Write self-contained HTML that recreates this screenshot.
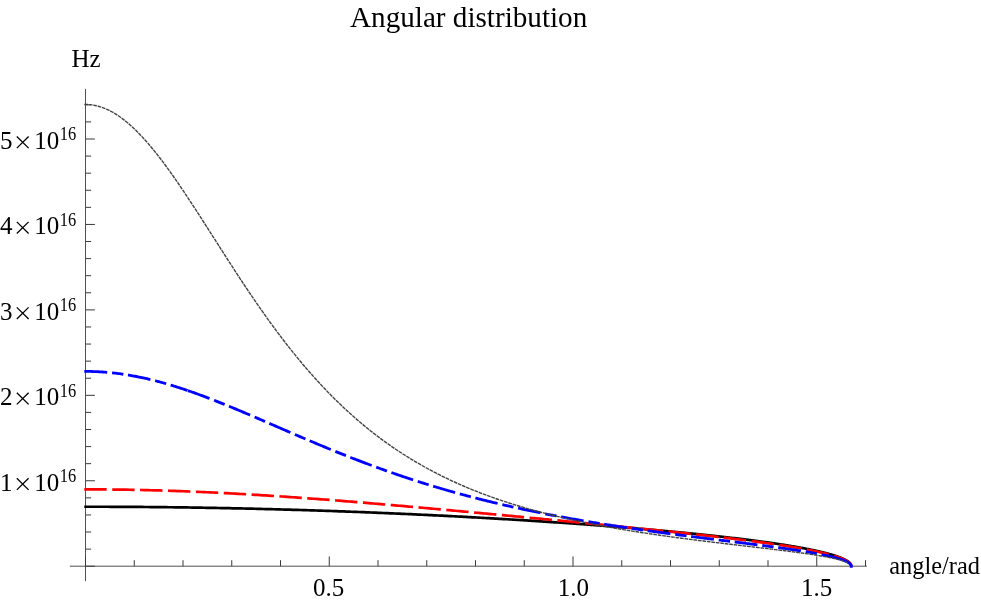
<!DOCTYPE html>
<html><head><meta charset="utf-8"><title>Angular distribution</title>
<style>
html,body{margin:0;padding:0;background:#fff;}
body{width:981px;height:602px;overflow:hidden;font-family:"Liberation Serif",serif;}
svg{display:block;}
</style></head><body>
<svg width="981" height="602" viewBox="0 0 981 602">
<rect width="981" height="602" fill="#ffffff"/>
<g stroke="#3a3a3a" stroke-width="1" fill="none" stroke-linecap="butt">
<line x1="69.8" y1="566.2" x2="866.9" y2="566.2" stroke="#505050"/>
<line x1="85.5" y1="88.9" x2="85.5" y2="581.1" stroke="#505050"/>
<line x1="85.50" y1="566.2" x2="85.50" y2="556.40"/>
<line x1="134.25" y1="566.2" x2="134.25" y2="560.20"/>
<line x1="183.00" y1="566.2" x2="183.00" y2="560.20"/>
<line x1="231.75" y1="566.2" x2="231.75" y2="560.20"/>
<line x1="280.50" y1="566.2" x2="280.50" y2="560.20"/>
<line x1="329.25" y1="566.2" x2="329.25" y2="556.40"/>
<line x1="378.00" y1="566.2" x2="378.00" y2="560.20"/>
<line x1="426.75" y1="566.2" x2="426.75" y2="560.20"/>
<line x1="475.50" y1="566.2" x2="475.50" y2="560.20"/>
<line x1="524.25" y1="566.2" x2="524.25" y2="560.20"/>
<line x1="573.00" y1="566.2" x2="573.00" y2="556.40"/>
<line x1="621.75" y1="566.2" x2="621.75" y2="560.20"/>
<line x1="670.50" y1="566.2" x2="670.50" y2="560.20"/>
<line x1="719.25" y1="566.2" x2="719.25" y2="560.20"/>
<line x1="768.00" y1="566.2" x2="768.00" y2="560.20"/>
<line x1="816.75" y1="566.2" x2="816.75" y2="556.40"/>
<line x1="865.50" y1="566.2" x2="865.50" y2="560.20"/>
<line x1="85.5" y1="566.20" x2="94.90" y2="566.20"/>
<line x1="85.5" y1="549.11" x2="91.10" y2="549.11"/>
<line x1="85.5" y1="532.02" x2="91.10" y2="532.02"/>
<line x1="85.5" y1="514.94" x2="91.10" y2="514.94"/>
<line x1="85.5" y1="497.85" x2="91.10" y2="497.85"/>
<line x1="85.5" y1="480.76" x2="94.90" y2="480.76"/>
<line x1="85.5" y1="463.67" x2="91.10" y2="463.67"/>
<line x1="85.5" y1="446.58" x2="91.10" y2="446.58"/>
<line x1="85.5" y1="429.50" x2="91.10" y2="429.50"/>
<line x1="85.5" y1="412.41" x2="91.10" y2="412.41"/>
<line x1="85.5" y1="395.32" x2="94.90" y2="395.32"/>
<line x1="85.5" y1="378.23" x2="91.10" y2="378.23"/>
<line x1="85.5" y1="361.14" x2="91.10" y2="361.14"/>
<line x1="85.5" y1="344.06" x2="91.10" y2="344.06"/>
<line x1="85.5" y1="326.97" x2="91.10" y2="326.97"/>
<line x1="85.5" y1="309.88" x2="94.90" y2="309.88"/>
<line x1="85.5" y1="292.79" x2="91.10" y2="292.79"/>
<line x1="85.5" y1="275.70" x2="91.10" y2="275.70"/>
<line x1="85.5" y1="258.62" x2="91.10" y2="258.62"/>
<line x1="85.5" y1="241.53" x2="91.10" y2="241.53"/>
<line x1="85.5" y1="224.44" x2="94.90" y2="224.44"/>
<line x1="85.5" y1="207.35" x2="91.10" y2="207.35"/>
<line x1="85.5" y1="190.26" x2="91.10" y2="190.26"/>
<line x1="85.5" y1="173.18" x2="91.10" y2="173.18"/>
<line x1="85.5" y1="156.09" x2="91.10" y2="156.09"/>
<line x1="85.5" y1="139.00" x2="94.90" y2="139.00"/>
<line x1="85.5" y1="121.91" x2="91.10" y2="121.91"/>
<line x1="85.5" y1="104.82" x2="91.10" y2="104.82"/>
</g>
<path d="M84.30 506.74 L85.50 506.74 L88.69 506.74 L91.88 506.74 L95.05 506.74 L98.22 506.75 L101.38 506.75 L104.53 506.76 L107.68 506.77 L110.81 506.78 L113.94 506.79 L117.06 506.81 L120.17 506.82 L123.28 506.84 L126.37 506.86 L129.46 506.87 L132.54 506.89 L135.62 506.92 L138.68 506.94 L141.74 506.96 L144.79 506.99 L147.83 507.01 L150.86 507.04 L153.89 507.07 L156.90 507.10 L159.91 507.13 L162.92 507.16 L165.91 507.20 L168.90 507.23 L171.88 507.27 L174.85 507.31 L177.81 507.34 L180.76 507.38 L183.71 507.42 L186.65 507.47 L189.58 507.51 L192.51 507.55 L195.42 507.60 L198.33 507.64 L201.23 507.69 L204.12 507.74 L207.01 507.79 L209.89 507.84 L212.76 507.89 L215.62 507.94 L218.47 507.99 L221.32 508.05 L224.16 508.10 L226.99 508.16 L229.81 508.22 L232.63 508.28 L235.44 508.34 L238.24 508.40 L241.03 508.46 L243.82 508.52 L246.59 508.58 L249.36 508.64 L252.13 508.71 L254.88 508.77 L257.63 508.84 L260.37 508.91 L263.10 508.98 L265.82 509.05 L268.54 509.12 L271.25 509.19 L273.95 509.26 L276.64 509.33 L279.33 509.40 L282.01 509.48 L284.68 509.55 L287.34 509.63 L290.00 509.70 L292.65 509.78 L295.29 509.86 L297.92 509.94 L300.55 510.02 L303.17 510.09 L305.78 510.18 L308.38 510.26 L310.98 510.34 L313.57 510.42 L316.15 510.50 L318.72 510.59 L321.29 510.67 L323.85 510.76 L326.40 510.85 L328.94 510.93 L331.48 511.02 L334.01 511.11 L336.53 511.20 L339.05 511.29 L341.55 511.37 L344.05 511.47 L346.55 511.56 L349.03 511.65 L351.51 511.74 L353.98 511.83 L356.44 511.93 L358.90 512.02 L361.35 512.11 L363.79 512.21 L366.22 512.31 L368.65 512.40 L371.07 512.50 L373.48 512.59 L375.88 512.69 L378.28 512.79 L380.67 512.89 L383.05 512.99 L385.43 513.09 L387.80 513.19 L390.16 513.29 L392.51 513.39 L394.86 513.49 L397.20 513.59 L399.53 513.70 L401.86 513.80 L404.17 513.90 L406.48 514.01 L408.79 514.11 L411.08 514.21 L413.37 514.32 L415.65 514.42 L417.93 514.53 L420.20 514.64 L422.46 514.74 L424.71 514.85 L426.96 514.96 L429.20 515.06 L431.43 515.17 L433.65 515.28 L435.87 515.39 L438.08 515.50 L440.28 515.61 L442.48 515.72 L444.67 515.83 L446.85 515.94 L449.03 516.05 L451.20 516.16 L453.36 516.27 L455.51 516.38 L457.66 516.50 L459.80 516.61 L461.93 516.72 L464.06 516.83 L466.18 516.95 L468.29 517.06 L470.40 517.17 L472.49 517.29 L474.59 517.40 L476.67 517.52 L478.75 517.63 L480.82 517.75 L482.88 517.86 L484.94 517.98 L486.99 518.09 L489.03 518.21 L491.07 518.33 L493.10 518.44 L495.12 518.56 L497.14 518.68 L499.14 518.79 L501.15 518.91 L503.14 519.03 L505.13 519.15 L507.11 519.26 L509.09 519.38 L511.05 519.50 L513.01 519.62 L514.97 519.74 L516.92 519.86 L518.86 519.98 L520.79 520.10 L522.72 520.22 L524.64 520.34 L526.55 520.46 L528.46 520.58 L530.36 520.70 L532.25 520.82 L534.14 520.94 L536.02 521.06 L537.89 521.18 L539.76 521.30 L541.62 521.42 L543.47 521.54 L545.32 521.67 L547.15 521.79 L548.99 521.91 L550.81 522.03 L552.63 522.15 L554.45 522.28 L556.25 522.40 L558.05 522.52 L559.85 522.64 L561.63 522.77 L563.41 522.89 L565.19 523.01 L566.95 523.13 L568.71 523.26 L570.47 523.38 L572.22 523.50 L573.96 523.63 L575.69 523.75 L577.42 523.87 L579.14 524.00 L580.85 524.12 L582.56 524.25 L584.26 524.37 L585.96 524.49 L587.65 524.62 L589.33 524.74 L591.01 524.87 L592.68 524.99 L594.34 525.11 L596.00 525.24 L597.65 525.36 L599.29 525.49 L600.93 525.61 L602.56 525.74 L604.18 525.86 L605.80 525.99 L607.41 526.11 L609.02 526.24 L610.62 526.36 L612.21 526.49 L613.79 526.61 L615.37 526.74 L616.95 526.86 L618.52 526.99 L620.08 527.11 L621.63 527.24 L623.18 527.36 L624.72 527.49 L626.26 527.61 L627.79 527.74 L629.31 527.86 L630.83 527.99 L632.34 528.11 L633.84 528.24 L635.34 528.36 L636.83 528.49 L638.32 528.62 L639.80 528.74 L641.27 528.87 L642.74 528.99 L644.20 529.12 L645.66 529.24 L647.11 529.37 L648.55 529.49 L649.99 529.62 L651.42 529.75 L652.84 529.87 L654.26 530.00 L655.67 530.12 L657.08 530.25 L658.48 530.37 L659.87 530.50 L661.26 530.62 L662.64 530.75 L664.02 530.87 L665.39 531.00 L666.75 531.13 L668.11 531.25 L669.46 531.38 L670.81 531.50 L672.15 531.63 L673.48 531.75 L674.81 531.88 L676.13 532.00 L677.44 532.13 L678.75 532.25 L680.06 532.38 L681.36 532.50 L682.65 532.63 L683.93 532.75 L685.21 532.88 L686.49 533.00 L687.76 533.13 L689.02 533.25 L690.28 533.38 L691.53 533.50 L692.77 533.63 L694.01 533.75 L695.24 533.88 L696.47 534.00 L697.69 534.13 L698.91 534.25 L700.12 534.38 L701.32 534.50 L702.52 534.63 L703.72 534.75 L704.90 534.88 L706.08 535.00 L707.26 535.12 L708.43 535.25 L709.59 535.37 L710.75 535.50 L711.90 535.62 L713.05 535.74 L714.19 535.87 L715.33 535.99 L716.46 536.12 L717.58 536.24 L718.70 536.36 L719.81 536.49 L720.92 536.61 L722.02 536.73 L723.12 536.86 L724.21 536.98 L725.30 537.10 L726.37 537.23 L727.45 537.35 L728.52 537.47 L729.58 537.60 L730.64 537.72 L731.69 537.84 L732.73 537.97 L733.78 538.09 L734.81 538.21 L735.84 538.33 L736.86 538.46 L737.88 538.58 L738.90 538.70 L739.90 538.82 L740.91 538.95 L741.90 539.07 L742.89 539.19 L743.88 539.31 L744.86 539.43 L745.84 539.56 L746.81 539.68 L747.77 539.80 L748.73 539.92 L749.68 540.04 L750.63 540.16 L751.58 540.28 L752.51 540.41 L753.45 540.53 L754.37 540.65 L755.29 540.77 L756.21 540.89 L757.12 541.01 L758.03 541.13 L758.93 541.25 L759.83 541.37 L760.72 541.49 L761.60 541.61 L762.48 541.73 L763.36 541.85 L764.22 541.97 L765.09 542.09 L765.95 542.21 L766.80 542.33 L767.65 542.45 L768.49 542.57 L769.33 542.69 L770.17 542.81 L771.00 542.93 L771.82 543.05 L772.64 543.17 L773.45 543.28 L774.26 543.40 L775.06 543.52 L775.86 543.64 L776.65 543.76 L777.44 543.88 L778.22 544.00 L779.00 544.11 L779.77 544.23 L780.54 544.35 L781.30 544.47 L782.06 544.58 L782.81 544.70 L783.56 544.82 L784.31 544.94 L785.04 545.05 L785.78 545.17 L786.51 545.29 L787.23 545.40 L787.95 545.52 L788.66 545.64 L789.37 545.75 L790.07 545.87 L790.77 545.99 L791.47 546.10 L792.16 546.22 L792.84 546.33 L793.52 546.45 L794.20 546.57 L794.87 546.68 L795.53 546.80 L796.20 546.91 L796.85 547.03 L797.50 547.14 L798.15 547.26 L798.79 547.37 L799.43 547.48 L800.06 547.60 L800.69 547.71 L801.32 547.83 L801.93 547.94 L802.55 548.06 L803.16 548.17 L803.76 548.28 L804.36 548.40 L804.96 548.51 L805.55 548.62 L806.14 548.74 L806.72 548.85 L807.30 548.96 L807.87 549.07 L808.44 549.19 L809.00 549.30 L809.56 549.41 L810.12 549.52 L810.67 549.63 L811.22 549.75 L811.76 549.86 L812.30 549.97 L812.83 550.08 L813.36 550.19 L813.88 550.30 L814.40 550.41 L814.92 550.52 L815.43 550.63 L815.93 550.74 L816.44 550.85 L816.94 550.96 L817.43 551.07 L817.92 551.18 L818.40 551.29 L818.89 551.40 L819.36 551.51 L819.84 551.62 L820.30 551.73 L820.77 551.84 L821.23 551.95 L821.68 552.06 L822.13 552.16 L822.58 552.27 L823.03 552.38 L823.46 552.49 L823.90 552.60 L824.33 552.70 L824.76 552.81 L825.18 552.92 L825.60 553.03 L826.01 553.13 L826.42 553.24 L826.83 553.35 L827.23 553.45 L827.63 553.56 L828.03 553.66 L828.42 553.77 L828.80 553.87 L829.19 553.98 L829.56 554.09 L829.94 554.19 L830.31 554.30 L830.68 554.40 L831.04 554.50 L831.40 554.61 L831.75 554.71 L832.11 554.82 L832.45 554.92 L832.80 555.02 L833.14 555.13 L833.47 555.23 L833.81 555.33 L834.14 555.44 L834.46 555.54 L834.78 555.64 L835.10 555.74 L835.41 555.85 L835.72 555.95 L836.03 556.05 L836.33 556.15 L836.63 556.25 L836.93 556.35 L837.22 556.45 L837.51 556.55 L837.79 556.65 L838.07 556.75 L838.35 556.85 L838.63 556.95 L838.90 557.05 L839.16 557.15 L839.43 557.25 L839.69 557.35 L839.94 557.45 L840.20 557.55 L840.45 557.65 L840.69 557.74 L840.94 557.84 L841.18 557.94 L841.41 558.04 L841.64 558.13 L841.87 558.23 L842.10 558.33 L842.32 558.42 L842.54 558.52 L842.76 558.62 L842.97 558.71 L843.18 558.81 L843.39 558.90 L843.59 559.00 L843.79 559.09 L843.99 559.19 L844.18 559.28 L844.37 559.37 L844.56 559.47 L844.75 559.56 L844.93 559.65 L845.11 559.75 L845.28 559.84 L845.45 559.93 L845.62 560.02 L845.79 560.12 L845.95 560.21 L846.11 560.30 L846.27 560.39 L846.43 560.48 L846.58 560.57 L846.73 560.66 L846.87 560.75 L847.02 560.84 L847.16 560.93 L847.29 561.02 L847.43 561.11 L847.56 561.19 L847.69 561.28 L847.81 561.37 L847.94 561.46 L848.06 561.54 L848.18 561.63 L848.29 561.72 L848.41 561.80 L848.52 561.89 L848.62 561.97 L848.73 562.06 L848.83 562.14 L848.93 562.23 L849.03 562.31 L849.12 562.40 L849.22 562.48 L849.31 562.56 L849.39 562.64 L849.48 562.73 L849.56 562.81 L849.64 562.89 L849.72 562.97 L849.80 563.05 L849.87 563.13 L849.94 563.21 L850.01 563.29 L850.08 563.37 L850.14 563.45 L850.21 563.53 L850.27 563.60 L850.32 563.68 L850.38 563.76 L850.43 563.83 L850.49 563.91 L850.54 563.98 L850.59 564.06 L850.63 564.13 L850.68 564.21 L850.72 564.28 L850.76 564.35 L850.80 564.42 L850.83 564.49 L850.87 564.57 L850.90 564.64 L850.93 564.71 L850.96 564.77 L850.99 564.84 L851.02 564.91 L851.04 564.98 L851.07 565.04 L851.09 565.11 L851.11 565.17 L851.13 565.24 L851.14 565.30 L851.16 565.36 L851.17 565.42 L851.19 565.48 L851.20 565.54 L851.21 565.60 L851.22 565.66 L851.23 565.71 L851.24 565.77 L851.24 565.82 L851.25 565.87 L851.25 565.92 L851.26 565.97 L851.26 566.02 L851.26 566.06 L851.26 566.10 L851.26 566.14 L851.26 566.18 L851.26 566.20" fill="none" stroke="#000000" stroke-width="2.7" stroke-linejoin="round"/>
<path d="M84.30 489.38 L85.50 489.38 L88.69 489.38 L91.88 489.39 L95.05 489.40 L98.22 489.41 L101.38 489.43 L104.53 489.45 L107.68 489.48 L110.81 489.51 L113.94 489.54 L117.06 489.58 L120.17 489.62 L123.28 489.67 L126.37 489.71 L129.46 489.77 L132.54 489.82 L135.62 489.88 L138.68 489.94 L141.74 490.01 L144.79 490.08 L147.83 490.15 L150.86 490.23 L153.89 490.31 L156.90 490.39 L159.91 490.47 L162.92 490.56 L165.91 490.65 L168.90 490.75 L171.88 490.85 L174.85 490.95 L177.81 491.05 L180.76 491.16 L183.71 491.27 L186.65 491.38 L189.58 491.50 L192.51 491.61 L195.42 491.73 L198.33 491.86 L201.23 491.98 L204.12 492.11 L207.01 492.24 L209.89 492.37 L212.76 492.51 L215.62 492.64 L218.47 492.78 L221.32 492.93 L224.16 493.07 L226.99 493.22 L229.81 493.36 L232.63 493.51 L235.44 493.67 L238.24 493.82 L241.03 493.98 L243.82 494.13 L246.59 494.29 L249.36 494.46 L252.13 494.62 L254.88 494.78 L257.63 494.95 L260.37 495.12 L263.10 495.29 L265.82 495.46 L268.54 495.63 L271.25 495.80 L273.95 495.98 L276.64 496.16 L279.33 496.33 L282.01 496.51 L284.68 496.69 L287.34 496.87 L290.00 497.06 L292.65 497.24 L295.29 497.43 L297.92 497.61 L300.55 497.80 L303.17 497.99 L305.78 498.18 L308.38 498.37 L310.98 498.56 L313.57 498.75 L316.15 498.94 L318.72 499.13 L321.29 499.33 L323.85 499.52 L326.40 499.72 L328.94 499.91 L331.48 500.11 L334.01 500.31 L336.53 500.50 L339.05 500.70 L341.55 500.90 L344.05 501.10 L346.55 501.30 L349.03 501.50 L351.51 501.70 L353.98 501.90 L356.44 502.10 L358.90 502.30 L361.35 502.50 L363.79 502.70 L366.22 502.91 L368.65 503.11 L371.07 503.31 L373.48 503.51 L375.88 503.72 L378.28 503.92 L380.67 504.12 L383.05 504.32 L385.43 504.53 L387.80 504.73 L390.16 504.93 L392.51 505.14 L394.86 505.34 L397.20 505.54 L399.53 505.75 L401.86 505.95 L404.17 506.15 L406.48 506.36 L408.79 506.56 L411.08 506.76 L413.37 506.96 L415.65 507.17 L417.93 507.37 L420.20 507.57 L422.46 507.77 L424.71 507.98 L426.96 508.18 L429.20 508.38 L431.43 508.58 L433.65 508.78 L435.87 508.98 L438.08 509.18 L440.28 509.38 L442.48 509.58 L444.67 509.78 L446.85 509.98 L449.03 510.18 L451.20 510.38 L453.36 510.57 L455.51 510.77 L457.66 510.97 L459.80 511.17 L461.93 511.36 L464.06 511.56 L466.18 511.76 L468.29 511.95 L470.40 512.15 L472.49 512.34 L474.59 512.54 L476.67 512.73 L478.75 512.92 L480.82 513.12 L482.88 513.31 L484.94 513.50 L486.99 513.69 L489.03 513.88 L491.07 514.07 L493.10 514.27 L495.12 514.45 L497.14 514.64 L499.14 514.83 L501.15 515.02 L503.14 515.21 L505.13 515.40 L507.11 515.58 L509.09 515.77 L511.05 515.96 L513.01 516.14 L514.97 516.33 L516.92 516.51 L518.86 516.70 L520.79 516.88 L522.72 517.06 L524.64 517.25 L526.55 517.43 L528.46 517.61 L530.36 517.79 L532.25 517.97 L534.14 518.15 L536.02 518.33 L537.89 518.51 L539.76 518.69 L541.62 518.87 L543.47 519.05 L545.32 519.22 L547.15 519.40 L548.99 519.58 L550.81 519.75 L552.63 519.93 L554.45 520.10 L556.25 520.28 L558.05 520.45 L559.85 520.62 L561.63 520.80 L563.41 520.97 L565.19 521.14 L566.95 521.31 L568.71 521.48 L570.47 521.65 L572.22 521.82 L573.96 521.99 L575.69 522.16 L577.42 522.33 L579.14 522.50 L580.85 522.66 L582.56 522.83 L584.26 523.00 L585.96 523.16 L587.65 523.33 L589.33 523.49 L591.01 523.66 L592.68 523.82 L594.34 523.98 L596.00 524.15 L597.65 524.31 L599.29 524.47 L600.93 524.63 L602.56 524.79 L604.18 524.95 L605.80 525.11 L607.41 525.27 L609.02 525.43 L610.62 525.59 L612.21 525.75 L613.79 525.91 L615.37 526.07 L616.95 526.22 L618.52 526.38 L620.08 526.54 L621.63 526.69 L623.18 526.85 L624.72 527.00 L626.26 527.16 L627.79 527.31 L629.31 527.46 L630.83 527.62 L632.34 527.77 L633.84 527.92 L635.34 528.07 L636.83 528.23 L638.32 528.38 L639.80 528.53 L641.27 528.68 L642.74 528.83 L644.20 528.98 L645.66 529.13 L647.11 529.27 L648.55 529.42 L649.99 529.57 L651.42 529.72 L652.84 529.86 L654.26 530.01 L655.67 530.16 L657.08 530.30 L658.48 530.45 L659.87 530.59 L661.26 530.74 L662.64 530.88 L664.02 531.03 L665.39 531.17 L666.75 531.32 L668.11 531.46 L669.46 531.60 L670.81 531.74 L672.15 531.89 L673.48 532.03 L674.81 532.17 L676.13 532.31 L677.44 532.45 L678.75 532.59 L680.06 532.73 L681.36 532.87 L682.65 533.01 L683.93 533.15 L685.21 533.29 L686.49 533.43 L687.76 533.56 L689.02 533.70 L690.28 533.84 L691.53 533.98 L692.77 534.11 L694.01 534.25 L695.24 534.38 L696.47 534.52 L697.69 534.66 L698.91 534.79 L700.12 534.93 L701.32 535.06 L702.52 535.19 L703.72 535.33 L704.90 535.46 L706.08 535.60 L707.26 535.73 L708.43 535.86 L709.59 535.99 L710.75 536.13 L711.90 536.26 L713.05 536.39 L714.19 536.52 L715.33 536.65 L716.46 536.78 L717.58 536.92 L718.70 537.05 L719.81 537.18 L720.92 537.31 L722.02 537.44 L723.12 537.56 L724.21 537.69 L725.30 537.82 L726.37 537.95 L727.45 538.08 L728.52 538.21 L729.58 538.34 L730.64 538.46 L731.69 538.59 L732.73 538.72 L733.78 538.84 L734.81 538.97 L735.84 539.10 L736.86 539.22 L737.88 539.35 L738.90 539.48 L739.90 539.60 L740.91 539.73 L741.90 539.85 L742.89 539.98 L743.88 540.10 L744.86 540.22 L745.84 540.35 L746.81 540.47 L747.77 540.60 L748.73 540.72 L749.68 540.84 L750.63 540.97 L751.58 541.09 L752.51 541.21 L753.45 541.33 L754.37 541.46 L755.29 541.58 L756.21 541.70 L757.12 541.82 L758.03 541.94 L758.93 542.06 L759.83 542.18 L760.72 542.31 L761.60 542.43 L762.48 542.55 L763.36 542.67 L764.22 542.79 L765.09 542.91 L765.95 543.03 L766.80 543.14 L767.65 543.26 L768.49 543.38 L769.33 543.50 L770.17 543.62 L771.00 543.74 L771.82 543.86 L772.64 543.97 L773.45 544.09 L774.26 544.21 L775.06 544.33 L775.86 544.44 L776.65 544.56 L777.44 544.68 L778.22 544.79 L779.00 544.91 L779.77 545.03 L780.54 545.14 L781.30 545.26 L782.06 545.38 L782.81 545.49 L783.56 545.61 L784.31 545.72 L785.04 545.84 L785.78 545.95 L786.51 546.07 L787.23 546.18 L787.95 546.30 L788.66 546.41 L789.37 546.52 L790.07 546.64 L790.77 546.75 L791.47 546.86 L792.16 546.98 L792.84 547.09 L793.52 547.20 L794.20 547.32 L794.87 547.43 L795.53 547.54 L796.20 547.65 L796.85 547.77 L797.50 547.88 L798.15 547.99 L798.79 548.10 L799.43 548.21 L800.06 548.32 L800.69 548.43 L801.32 548.55 L801.93 548.66 L802.55 548.77 L803.16 548.88 L803.76 548.99 L804.36 549.10 L804.96 549.21 L805.55 549.32 L806.14 549.43 L806.72 549.54 L807.30 549.64 L807.87 549.75 L808.44 549.86 L809.00 549.97 L809.56 550.08 L810.12 550.19 L810.67 550.30 L811.22 550.40 L811.76 550.51 L812.30 550.62 L812.83 550.73 L813.36 550.83 L813.88 550.94 L814.40 551.05 L814.92 551.16 L815.43 551.26 L815.93 551.37 L816.44 551.48 L816.94 551.58 L817.43 551.69 L817.92 551.79 L818.40 551.90 L818.89 552.00 L819.36 552.11 L819.84 552.22 L820.30 552.32 L820.77 552.42 L821.23 552.53 L821.68 552.63 L822.13 552.74 L822.58 552.84 L823.03 552.95 L823.46 553.05 L823.90 553.15 L824.33 553.26 L824.76 553.36 L825.18 553.46 L825.60 553.57 L826.01 553.67 L826.42 553.77 L826.83 553.87 L827.23 553.98 L827.63 554.08 L828.03 554.18 L828.42 554.28 L828.80 554.38 L829.19 554.48 L829.56 554.59 L829.94 554.69 L830.31 554.79 L830.68 554.89 L831.04 554.99 L831.40 555.09 L831.75 555.19 L832.11 555.29 L832.45 555.39 L832.80 555.49 L833.14 555.59 L833.47 555.69 L833.81 555.78 L834.14 555.88 L834.46 555.98 L834.78 556.08 L835.10 556.18 L835.41 556.28 L835.72 556.37 L836.03 556.47 L836.33 556.57 L836.63 556.66 L836.93 556.76 L837.22 556.86 L837.51 556.95 L837.79 557.05 L838.07 557.15 L838.35 557.24 L838.63 557.34 L838.90 557.43 L839.16 557.53 L839.43 557.62 L839.69 557.72 L839.94 557.81 L840.20 557.91 L840.45 558.00 L840.69 558.10 L840.94 558.19 L841.18 558.28 L841.41 558.38 L841.64 558.47 L841.87 558.56 L842.10 558.66 L842.32 558.75 L842.54 558.84 L842.76 558.93 L842.97 559.02 L843.18 559.11 L843.39 559.21 L843.59 559.30 L843.79 559.39 L843.99 559.48 L844.18 559.57 L844.37 559.66 L844.56 559.75 L844.75 559.84 L844.93 559.93 L845.11 560.02 L845.28 560.10 L845.45 560.19 L845.62 560.28 L845.79 560.37 L845.95 560.46 L846.11 560.54 L846.27 560.63 L846.43 560.72 L846.58 560.80 L846.73 560.89 L846.87 560.98 L847.02 561.06 L847.16 561.15 L847.29 561.23 L847.43 561.32 L847.56 561.40 L847.69 561.49 L847.81 561.57 L847.94 561.66 L848.06 561.74 L848.18 561.82 L848.29 561.90 L848.41 561.99 L848.52 562.07 L848.62 562.15 L848.73 562.23 L848.83 562.31 L848.93 562.39 L849.03 562.47 L849.12 562.55 L849.22 562.63 L849.31 562.71 L849.39 562.79 L849.48 562.87 L849.56 562.95 L849.64 563.03 L849.72 563.11 L849.80 563.18 L849.87 563.26 L849.94 563.34 L850.01 563.41 L850.08 563.49 L850.14 563.56 L850.21 563.64 L850.27 563.71 L850.32 563.79 L850.38 563.86 L850.43 563.93 L850.49 564.00 L850.54 564.08 L850.59 564.15 L850.63 564.22 L850.68 564.29 L850.72 564.36 L850.76 564.43 L850.80 564.50 L850.83 564.57 L850.87 564.63 L850.90 564.70 L850.93 564.77 L850.96 564.83 L850.99 564.90 L851.02 564.96 L851.04 565.03 L851.07 565.09 L851.09 565.15 L851.11 565.22 L851.13 565.28 L851.14 565.34 L851.16 565.40 L851.17 565.46 L851.19 565.51 L851.20 565.57 L851.21 565.63 L851.22 565.68 L851.23 565.73 L851.24 565.79 L851.24 565.84 L851.25 565.89 L851.25 565.94 L851.26 565.98 L851.26 566.03 L851.26 566.07 L851.26 566.11 L851.26 566.14 L851.26 566.18 L851.26 566.20" fill="none" stroke="#ff0000" stroke-width="2.7" stroke-linejoin="round" stroke-dasharray="22.4 5.5"/>
<path d="M84.30 371.41 L85.50 371.41 L86.81 371.42 L88.12 371.43 L89.43 371.44 L90.74 371.47 L92.04 371.50 L93.35 371.54 L94.66 371.58 L95.97 371.63 L97.28 371.69 L98.59 371.75 L99.90 371.83 L101.21 371.90 L102.52 371.99 L103.83 372.08 L105.13 372.18 L106.44 372.29 L107.75 372.40 L109.06 372.52 L110.37 372.64 L111.68 372.77 L112.99 372.91 L114.30 373.06 L115.61 373.21 L116.92 373.37 L118.22 373.53 L119.53 373.70 L120.84 373.88 L122.15 374.07 L123.46 374.26 L124.77 374.45 L126.08 374.66 L127.39 374.87 L128.70 375.08 L130.01 375.30 L131.31 375.53 L132.62 375.77 L133.93 376.01 L135.24 376.25 L136.55 376.50 L137.86 376.76 L139.17 377.03 L140.48 377.30 L141.79 377.57 L143.09 377.85 L144.40 378.14 L145.71 378.43 L147.02 378.73 L148.33 379.04 L149.64 379.35 L150.95 379.66 L152.26 379.98 L153.57 380.31 L154.88 380.64 L156.18 380.98 L157.49 381.32 L158.80 381.67 L160.11 382.02 L161.42 382.38 L162.73 382.74 L164.04 383.11 L165.35 383.48 L166.66 383.86 L167.97 384.24 L169.27 384.63 L170.58 385.02 L171.89 385.41 L173.20 385.81 L174.51 386.22 L175.82 386.63 L177.13 387.04 L178.44 387.46 L179.75 387.88 L181.06 388.31 L182.36 388.74 L183.67 389.17 L184.98 389.61 L186.29 390.05 L187.60 390.50" fill="none" stroke="#0000ff" stroke-width="2.8" stroke-linejoin="round" stroke-dasharray="22.9 4.9 11.4 4.67"/>
<path d="M188.00 390.64 L189.28 391.08 L190.56 391.52 L191.84 391.97 L193.12 392.42 L194.40 392.88 L195.68 393.34 L196.96 393.80 L198.24 394.27 L199.52 394.73 L200.80 395.20 L202.08 395.68 L203.36 396.16 L204.64 396.64 L205.92 397.12 L207.20 397.60 L208.48 398.09 L209.76 398.58 L211.04 399.08 L212.32 399.57 L213.60 400.07 L214.88 400.57 L216.15 401.08 L217.43 401.58 L218.71 402.09 L219.99 402.60 L221.27 403.11 L222.55 403.63 L223.83 404.15 L225.11 404.66 L226.39 405.19 L227.67 405.71 L228.95 406.23 L230.23 406.76 L231.51 407.29 L232.79 407.81 L234.07 408.35 L235.35 408.88 L236.63 409.41 L237.91 409.95 L239.19 410.48 L240.47 411.02 L241.75 411.56 L243.03 412.10 L244.31 412.64 L245.59 413.19 L246.87 413.73 L248.15 414.27 L249.43 414.82 L250.71 415.37 L251.99 415.91 L253.27 416.46 L254.55 417.01 L255.83 417.56 L257.11 418.11 L258.39 418.66 L259.67 419.21 L260.95 419.77 L262.23 420.32 L263.51 420.87 L264.79 421.42 L266.07 421.98 L267.35 422.53 L268.62 423.09 L269.90 423.64 L271.18 424.19 L272.46 424.75 L273.74 425.30 L275.02 425.86 L276.30 426.41 L277.58 426.97 L278.86 427.52 L280.14 428.08 L281.42 428.63 L282.70 429.19 L283.98 429.74 L285.26 430.29 L286.54 430.85 L287.82 431.40 L289.10 431.95 L290.38 432.50 L291.66 433.06 L292.94 433.61 L294.22 434.16 L295.50 434.71 L296.78 435.26 L298.06 435.81 L299.34 436.35 L300.62 436.90 L301.90 437.45 L303.18 437.99 L304.46 438.54 L305.74 439.08 L307.02 439.63 L308.30 440.17 L309.58 440.71 L310.86 441.25 L312.14 441.79 L313.42 442.33 L314.70 442.87 L315.98 443.41 L317.26 443.94 L318.54 444.48 L319.82 445.01 L321.10 445.54 L322.38 446.08 L323.65 446.61 L324.93 447.14 L326.21 447.66 L327.49 448.19 L328.77 448.72 L330.05 449.24 L331.33 449.76 L332.61 450.28 L333.89 450.80 L335.17 451.32 L336.45 451.84 L337.73 452.36 L339.01 452.87 L340.29 453.39 L341.57 453.90 L342.85 454.41 L344.13 454.92 L345.41 455.42 L346.69 455.93 L347.97 456.43 L349.25 456.94 L350.53 457.44 L351.81 457.94 L353.09 458.44 L354.37 458.93 L355.65 459.43 L356.93 459.92 L358.21 460.41 L359.49 460.91 L360.77 461.39 L362.05 461.88 L363.33 462.37 L364.61 462.85 L365.89 463.33 L367.17 463.81 L368.45 464.29 L369.73 464.77 L371.01 465.24 L372.29 465.72 L373.57 466.19 L374.85 466.66 L376.12 467.13 L377.40 467.59 L378.68 468.06 L379.96 468.52 L381.24 468.98 L382.52 469.44 L383.80 469.90 L385.08 470.36 L386.36 470.81 L387.64 471.26 L388.92 471.71 L390.20 472.16 L391.48 472.61 L392.76 473.05 L394.04 473.50 L395.32 473.94 L396.60 474.38 L397.88 474.82 L399.16 475.25 L400.44 475.69 L401.72 476.12 L403.00 476.55 L404.28 476.98 L405.56 477.41 L406.84 477.83 L408.12 478.26 L409.40 478.68 L410.68 479.10 L411.96 479.52 L413.24 479.93 L414.52 480.35 L415.80 480.76 L417.08 481.17 L418.36 481.58 L419.64 481.99 L420.92 482.39 L422.20 482.79 L423.48 483.20 L424.76 483.60 L426.04 483.99 L427.32 484.39 L428.60 484.78 L429.88 485.18 L431.15 485.57 L432.43 485.96 L433.71 486.34 L434.99 486.73 L436.27 487.11 L437.55 487.49 L438.83 487.87 L440.11 488.25 L441.39 488.63 L442.67 489.00 L443.95 489.38 L445.23 489.75 L446.51 490.12 L447.79 490.49 L449.07 490.85 L450.35 491.22 L451.63 491.58 L452.91 491.94 L454.19 492.30 L455.47 492.66 L456.75 493.01 L458.03 493.37 L459.31 493.72 L460.59 494.07 L461.87 494.42 L463.15 494.76 L464.43 495.11 L465.71 495.45 L466.99 495.80 L468.27 496.14 L469.55 496.47 L470.83 496.81 L472.11 497.15 L473.39 497.48 L474.67 497.81 L475.95 498.14 L477.23 498.47 L478.51 498.80 L479.79 499.13 L481.07 499.45 L482.35 499.77 L483.63 500.09 L484.90 500.41 L486.18 500.73 L487.46 501.05 L488.74 501.36 L490.02 501.67 L491.30 501.98 L492.58 502.29 L493.86 502.60 L495.14 502.91 L496.42 503.21 L497.70 503.52 L498.98 503.82 L500.26 504.12 L501.54 504.42 L502.82 504.72 L504.10 505.02 L505.38 505.31 L506.66 505.60 L507.94 505.90 L509.22 506.19 L510.50 506.47 L511.78 506.76 L513.06 507.05 L514.34 507.33 L515.62 507.62 L516.90 507.90 L518.18 508.18 L519.46 508.46 L520.74 508.74 L522.02 509.01 L523.30 509.29 L524.58 509.56 L525.86 509.83 L527.14 510.10 L528.42 510.37 L529.70 510.64 L530.98 510.91 L532.26 511.17 L533.54 511.44 L534.82 511.70 L536.10 511.96 L537.38 512.22 L538.65 512.48 L539.93 512.74 L541.21 513.00 L542.49 513.25 L543.77 513.51 L545.05 513.76 L546.33 514.01 L547.61 514.26 L548.89 514.51 L550.17 514.76 L551.45 515.01 L552.73 515.25 L554.01 515.50 L555.29 515.74 L556.57 515.98 L557.85 516.22 L559.13 516.46 L560.41 516.70 L561.69 516.94 L562.97 517.17 L564.25 517.41 L565.53 517.64 L566.81 517.88 L568.09 518.11 L569.37 518.34 L570.65 518.57 L571.93 518.80 L573.21 519.03 L574.49 519.25 L575.77 519.48 L577.05 519.70 L578.33 519.93 L579.61 520.15 L580.89 520.37 L582.17 520.59 L583.45 520.81 L584.73 521.03 L586.01 521.25 L587.29 521.46 L588.57 521.68 L589.85 521.89 L591.12 522.11 L592.40 522.32 L593.68 522.53 L594.96 522.74 L596.24 522.95 L597.52 523.16 L598.80 523.37 L600.08 523.57 L601.36 523.78 L602.64 523.99 L603.92 524.19 L605.20 524.39 L606.48 524.60 L607.76 524.80 L609.04 525.00 L610.32 525.20 L611.60 525.40 L612.88 525.60 L614.16 525.79 L615.44 525.99 L616.72 526.19 L618.00 526.38 L619.28 526.58 L620.56 526.77 L621.84 526.96 L623.12 527.16 L624.40 527.35 L625.68 527.54 L626.96 527.73 L628.24 527.92 L629.52 528.11 L630.80 528.29 L632.08 528.48 L633.36 528.67 L634.64 528.85 L635.92 529.04 L637.20 529.22 L638.48 529.41 L639.76 529.59 L641.04 529.77 L642.32 529.95 L643.60 530.14 L644.88 530.32 L646.15 530.50 L647.43 530.68 L648.71 530.85 L649.99 531.03 L651.27 531.21 L652.55 531.39 L653.83 531.56 L655.11 531.74 L656.39 531.91 L657.67 532.09 L658.95 532.26 L660.23 532.44 L661.51 532.61 L662.79 532.78 L664.07 532.95 L665.35 533.13 L666.63 533.30 L667.91 533.47 L669.19 533.64 L670.47 533.81 L671.75 533.98 L673.03 534.15 L674.31 534.32 L675.59 534.48 L676.87 534.65 L678.15 534.82 L679.43 534.99 L680.71 535.15 L681.99 535.32 L683.27 535.48 L684.55 535.65 L685.83 535.81 L687.11 535.98 L688.39 536.14 L689.67 536.31 L690.95 536.47 L692.23 536.63 L693.51 536.80 L694.79 536.96 L696.07 537.12 L697.35 537.29 L698.62 537.45 L699.90 537.61 L701.18 537.77 L702.46 537.93 L703.74 538.09 L705.02 538.25 L706.30 538.42 L707.58 538.58 L708.86 538.74 L710.14 538.90 L711.42 539.06 L712.70 539.22 L713.98 539.38 L715.26 539.54 L716.54 539.70 L717.82 539.86 L719.10 540.02 L720.38 540.18 L721.66 540.33 L722.94 540.49 L724.22 540.65 L725.50 540.81 L726.78 540.97 L728.06 541.13 L729.34 541.29 L730.62 541.45 L731.90 541.61 L733.18 541.77 L734.46 541.93 L735.74 542.09 L737.02 542.25 L738.30 542.41 L739.58 542.57 L740.86 542.73 L742.14 542.89 L743.42 543.05 L744.70 543.21 L745.98 543.38 L747.26 543.54 L748.54 543.70 L749.82 543.86 L751.10 544.02 L752.38 544.19 L753.65 544.35 L754.93 544.51 L756.21 544.68 L757.49 544.84 L758.77 545.01 L760.05 545.17 L761.33 545.34 L762.61 545.51 L763.89 545.67 L765.17 545.84 L766.45 546.01 L767.73 546.18 L769.01 546.35 L770.29 546.52 L771.57 546.69 L772.85 546.86 L774.13 547.03 L775.41 547.21 L776.69 547.38 L777.97 547.56 L779.25 547.73 L780.53 547.91 L781.81 548.09 L783.09 548.27 L784.37 548.45 L785.65 548.63 L786.93 548.81 L788.21 549.00 L789.49 549.18 L790.77 549.37 L792.05 549.56 L793.33 549.75 L794.61 549.94 L795.89 550.13 L797.17 550.33 L798.45 550.53 L799.73 550.73 L801.01 550.93 L802.29 551.13 L803.57 551.33 L804.85 551.54 L806.12 551.75 L807.40 551.96 L808.68 552.18 L809.96 552.40 L811.24 552.62 L812.52 552.84 L813.80 553.07 L815.08 553.30 L816.36 553.53 L817.64 553.77 L818.92 554.01 L820.20 554.26 L821.48 554.51 L822.76 554.77 L824.04 555.03 L825.32 555.30 L826.60 555.58 L827.88 555.86 L829.16 556.15 L830.44 556.45 L831.72 556.75 L833.00 557.07" fill="none" stroke="#0000ff" stroke-width="2.8" stroke-linejoin="round" stroke-dasharray="22.9 4.9 11.4 4.67"/>
<path d="M833.00 557.07 L834.53 557.46 L835.99 557.85 L837.36 558.24 L838.66 558.62 L839.88 559.00 L841.03 559.37 L842.11 559.74 L843.11 560.11 L844.05 560.47 L844.92 560.82 L845.72 561.17 L846.46 561.52 L847.13 561.86 L847.75 562.20 L848.31 562.53 L848.81 562.85 L849.25 563.17 L849.64 563.48 L849.99 563.79 L850.28 564.09 L850.53 564.38 L850.74 564.66 L850.91 564.93 L851.04 565.19 L851.13 565.43 L851.20 565.66 L851.24 565.88 L851.26 566.06 L851.26 566.20 L851.26 567.70" fill="none" stroke="#0000ff" stroke-width="2.8" stroke-linejoin="round" stroke-dasharray="22.9 4.9 11.4 4.67"/>
<path d="M84.30 104.48 L85.50 104.48 L88.69 104.59 L91.88 104.92 L95.05 105.46 L98.22 106.21 L101.38 107.16 L104.53 108.33 L107.68 109.69 L110.81 111.25 L113.94 113.00 L117.06 114.93 L120.17 117.04 L123.28 119.33 L126.37 121.79 L129.46 124.40 L132.54 127.18 L135.62 130.10 L138.68 133.16 L141.74 136.36 L144.79 139.69 L147.83 143.14 L150.86 146.70 L153.89 150.37 L156.90 154.14 L159.91 158.00 L162.92 161.95 L165.91 165.98 L168.90 170.08 L171.88 174.25 L174.85 178.48 L177.81 182.76 L180.76 187.09 L183.71 191.46 L186.65 195.87 L189.58 200.30 L192.51 204.76 L195.42 209.24 L198.33 213.74 L201.23 218.24 L204.12 222.75 L207.01 227.26 L209.89 231.76 L212.76 236.26 L215.62 240.74 L218.47 245.21 L221.32 249.66 L224.16 254.09 L226.99 258.50 L229.81 262.87 L232.63 267.22 L235.44 271.54 L238.24 275.81 L241.03 280.06 L243.82 284.26 L246.59 288.42 L249.36 292.54 L252.13 296.62 L254.88 300.65 L257.63 304.64 L260.37 308.57 L263.10 312.46 L265.82 316.30 L268.54 320.10 L271.25 323.84 L273.95 327.52 L276.64 331.16 L279.33 334.75 L282.01 338.28 L284.68 341.77 L287.34 345.20 L290.00 348.57 L292.65 351.90 L295.29 355.17 L297.92 358.40 L300.55 361.57 L303.17 364.69 L305.78 367.75 L308.38 370.77 L310.98 373.74 L313.57 376.66 L316.15 379.52 L318.72 382.34 L321.29 385.11 L323.85 387.83 L326.40 390.51 L328.94 393.14 L331.48 395.72 L334.01 398.25 L336.53 400.74 L339.05 403.19 L341.55 405.59 L344.05 407.95 L346.55 410.27 L349.03 412.54 L351.51 414.78 L353.98 416.97 L356.44 419.12 L358.90 421.24 L361.35 423.31 L363.79 425.35 L366.22 427.35 L368.65 429.31 L371.07 431.24 L373.48 433.13 L375.88 434.99 L378.28 436.81 L380.67 438.60 L383.05 440.35 L385.43 442.08 L387.80 443.77 L390.16 445.43 L392.51 447.06 L394.86 448.66 L397.20 450.24 L399.53 451.78 L401.86 453.29 L404.17 454.78 L406.48 456.24 L408.79 457.67 L411.08 459.08 L413.37 460.46 L415.65 461.82 L417.93 463.15 L420.20 464.46 L422.46 465.75 L424.71 467.01 L426.96 468.25 L429.20 469.46 L431.43 470.66 L433.65 471.83 L435.87 472.99 L438.08 474.12 L440.28 475.23 L442.48 476.32 L444.67 477.40 L446.85 478.45 L449.03 479.49 L451.20 480.51 L453.36 481.51 L455.51 482.49 L457.66 483.46 L459.80 484.41 L461.93 485.34 L464.06 486.26 L466.18 487.16 L468.29 488.05 L470.40 488.92 L472.49 489.78 L474.59 490.62 L476.67 491.45 L478.75 492.26 L480.82 493.06 L482.88 493.85 L484.94 494.63 L486.99 495.39 L489.03 496.14 L491.07 496.87 L493.10 497.60 L495.12 498.31 L497.14 499.02 L499.14 499.71 L501.15 500.39 L503.14 501.05 L505.13 501.71 L507.11 502.36 L509.09 503.00 L511.05 503.62 L513.01 504.24 L514.97 504.85 L516.92 505.45 L518.86 506.04 L520.79 506.62 L522.72 507.19 L524.64 507.75 L526.55 508.30 L528.46 508.85 L530.36 509.39 L532.25 509.92 L534.14 510.44 L536.02 510.95 L537.89 511.46 L539.76 511.96 L541.62 512.45 L543.47 512.93 L545.32 513.41 L547.15 513.88 L548.99 514.34 L550.81 514.80 L552.63 515.25 L554.45 515.69 L556.25 516.13 L558.05 516.56 L559.85 516.99 L561.63 517.40 L563.41 517.82 L565.19 518.23 L566.95 518.63 L568.71 519.02 L570.47 519.42 L572.22 519.80 L573.96 520.18 L575.69 520.56 L577.42 520.93 L579.14 521.29 L580.85 521.65 L582.56 522.01 L584.26 522.36 L585.96 522.71 L587.65 523.05 L589.33 523.39 L591.01 523.72 L592.68 524.05 L594.34 524.37 L596.00 524.70 L597.65 525.01 L599.29 525.33 L600.93 525.63 L602.56 525.94 L604.18 526.24 L605.80 526.54 L607.41 526.83 L609.02 527.12 L610.62 527.41 L612.21 527.69 L613.79 527.97 L615.37 528.25 L616.95 528.52 L618.52 528.79 L620.08 529.06 L621.63 529.33 L623.18 529.59 L624.72 529.84 L626.26 530.10 L627.79 530.35 L629.31 530.60 L630.83 530.85 L632.34 531.09 L633.84 531.33 L635.34 531.57 L636.83 531.81 L638.32 532.04 L639.80 532.27 L641.27 532.50 L642.74 532.73 L644.20 532.95 L645.66 533.17 L647.11 533.39 L648.55 533.61 L649.99 533.82 L651.42 534.03 L652.84 534.24 L654.26 534.45 L655.67 534.66 L657.08 534.86 L658.48 535.06 L659.87 535.26 L661.26 535.46 L662.64 535.65 L664.02 535.85 L665.39 536.04 L666.75 536.23 L668.11 536.42 L669.46 536.60 L670.81 536.79 L672.15 536.97 L673.48 537.15 L674.81 537.33 L676.13 537.51 L677.44 537.69 L678.75 537.86 L680.06 538.04 L681.36 538.21 L682.65 538.38 L683.93 538.55 L685.21 538.71 L686.49 538.88 L687.76 539.04 L689.02 539.21 L690.28 539.37 L691.53 539.53 L692.77 539.69 L694.01 539.85 L695.24 540.00 L696.47 540.16 L697.69 540.31 L698.91 540.46 L700.12 540.61 L701.32 540.77 L702.52 540.91 L703.72 541.06 L704.90 541.21 L706.08 541.35 L707.26 541.50 L708.43 541.64 L709.59 541.78 L710.75 541.93 L711.90 542.07 L713.05 542.21 L714.19 542.34 L715.33 542.48 L716.46 542.62 L717.58 542.75 L718.70 542.89 L719.81 543.02 L720.92 543.15 L722.02 543.29 L723.12 543.42 L724.21 543.55 L725.30 543.68 L726.37 543.80 L727.45 543.93 L728.52 544.06 L729.58 544.18 L730.64 544.31 L731.69 544.43 L732.73 544.56 L733.78 544.68 L734.81 544.80 L735.84 544.92 L736.86 545.04 L737.88 545.16 L738.90 545.28 L739.90 545.40 L740.91 545.52 L741.90 545.63 L742.89 545.75 L743.88 545.87 L744.86 545.98 L745.84 546.10 L746.81 546.21 L747.77 546.32 L748.73 546.44 L749.68 546.55 L750.63 546.66 L751.58 546.77 L752.51 546.88 L753.45 546.99 L754.37 547.10 L755.29 547.21 L756.21 547.32 L757.12 547.42 L758.03 547.53 L758.93 547.64 L759.83 547.74 L760.72 547.85 L761.60 547.95 L762.48 548.06 L763.36 548.16 L764.22 548.27 L765.09 548.37 L765.95 548.47 L766.80 548.57 L767.65 548.68 L768.49 548.78 L769.33 548.88 L770.17 548.98 L771.00 549.08 L771.82 549.18 L772.64 549.28 L773.45 549.38 L774.26 549.47 L775.06 549.57 L775.86 549.67 L776.65 549.77 L777.44 549.86 L778.22 549.96 L779.00 550.06 L779.77 550.15 L780.54 550.25 L781.30 550.34 L782.06 550.44 L782.81 550.53 L783.56 550.63 L784.31 550.72 L785.04 550.81 L785.78 550.91 L786.51 551.00 L787.23 551.09 L787.95 551.18 L788.66 551.28 L789.37 551.37 L790.07 551.46 L790.77 551.55 L791.47 551.64 L792.16 551.73 L792.84 551.82 L793.52 551.91 L794.20 552.00 L794.87 552.09 L795.53 552.18 L796.20 552.27 L796.85 552.36 L797.50 552.44 L798.15 552.53 L798.79 552.62 L799.43 552.71 L800.06 552.79 L800.69 552.88 L801.32 552.97 L801.93 553.05 L802.55 553.14 L803.16 553.23 L803.76 553.31 L804.36 553.40 L804.96 553.48 L805.55 553.57 L806.14 553.65 L806.72 553.74 L807.30 553.82 L807.87 553.91 L808.44 553.99 L809.00 554.07 L809.56 554.16 L810.12 554.24 L810.67 554.32 L811.22 554.41 L811.76 554.49 L812.30 554.57 L812.83 554.65 L813.36 554.74 L813.88 554.82 L814.40 554.90 L814.92 554.98 L815.43 555.06 L815.93 555.14 L816.44 555.22 L816.94 555.30 L817.43 555.38 L817.92 555.47 L818.40 555.55 L818.89 555.63 L819.36 555.71 L819.84 555.78 L820.30 555.86 L820.77 555.94 L821.23 556.02 L821.68 556.10 L822.13 556.18 L822.58 556.26 L823.03 556.34 L823.46 556.42 L823.90 556.49 L824.33 556.57 L824.76 556.65 L825.18 556.73 L825.60 556.80 L826.01 556.88 L826.42 556.96 L826.83 557.04 L827.23 557.11 L827.63 557.19 L828.03 557.27 L828.42 557.34 L828.80 557.42 L829.19 557.49 L829.56 557.57 L829.94 557.64 L830.31 557.72 L830.68 557.80 L831.04 557.87 L831.40 557.95 L831.75 558.02 L832.11 558.09 L832.45 558.17 L832.80 558.24 L833.14 558.32 L833.47 558.39 L833.81 558.47 L834.14 558.54 L834.46 558.61 L834.78 558.69 L835.10 558.76 L835.41 558.83 L835.72 558.90 L836.03 558.98 L836.33 559.05 L836.63 559.12 L836.93 559.19 L837.22 559.27 L837.51 559.34 L837.79 559.41 L838.07 559.48 L838.35 559.55 L838.63 559.62 L838.90 559.69 L839.16 559.77 L839.43 559.84 L839.69 559.91 L839.94 559.98 L840.20 560.05 L840.45 560.12 L840.69 560.19 L840.94 560.26 L841.18 560.33 L841.41 560.40 L841.64 560.46 L841.87 560.53 L842.10 560.60 L842.32 560.67 L842.54 560.74 L842.76 560.81 L842.97 560.88 L843.18 560.94 L843.39 561.01 L843.59 561.08 L843.79 561.15 L843.99 561.21 L844.18 561.28 L844.37 561.35 L844.56 561.41 L844.75 561.48 L844.93 561.55 L845.11 561.61 L845.28 561.68 L845.45 561.74 L845.62 561.81 L845.79 561.88 L845.95 561.94 L846.11 562.01 L846.27 562.07 L846.43 562.13 L846.58 562.20 L846.73 562.26 L846.87 562.33 L847.02 562.39 L847.16 562.45 L847.29 562.52 L847.43 562.58 L847.56 562.64" fill="none" stroke="#444444" stroke-width="1.4" stroke-linejoin="round" stroke-dasharray="3.7 0.8"/>
<g font-family="'Liberation Serif', serif" fill="#000" style="filter:grayscale(1)">
<text x="350" y="27.3" font-size="29.17">Angular distribution</text>
<text x="71.5" y="66.8" font-size="25">Hz</text>
<text x="889.3" y="573.5" font-size="25" textLength="90.6" lengthAdjust="spacingAndGlyphs">angle/rad</text>
<text x="328.6" y="596.4" font-size="25" text-anchor="middle">0.5</text>
<text x="573.4" y="596.4" font-size="25" text-anchor="middle">1.0</text>
<text x="816.5" y="596.4" font-size="25" text-anchor="middle">1.5</text>
<text y="490.8" font-size="25"><tspan x="0">1</tspan><tspan x="34.3">10</tspan></text>
<text transform="translate(59.8 482.1) scale(0.93 1.05)" font-size="17.75">16</text>
<path d="M16.8 478.3 L28.6 489.9 M28.6 478.3 L16.8 489.9" stroke="#000" stroke-width="1.3" fill="none"/>
<text y="405.3" font-size="25"><tspan x="0">2</tspan><tspan x="34.3">10</tspan></text>
<text transform="translate(59.8 396.6) scale(0.93 1.05)" font-size="17.75">16</text>
<path d="M16.8 392.8 L28.6 404.4 M28.6 392.8 L16.8 404.4" stroke="#000" stroke-width="1.3" fill="none"/>
<text y="319.9" font-size="25"><tspan x="0">3</tspan><tspan x="34.3">10</tspan></text>
<text transform="translate(59.8 311.2) scale(0.93 1.05)" font-size="17.75">16</text>
<path d="M16.8 307.4 L28.6 319.0 M28.6 307.4 L16.8 319.0" stroke="#000" stroke-width="1.3" fill="none"/>
<text y="234.4" font-size="25"><tspan x="0">4</tspan><tspan x="34.3">10</tspan></text>
<text transform="translate(59.8 225.7) scale(0.93 1.05)" font-size="17.75">16</text>
<path d="M16.8 221.9 L28.6 233.5 M28.6 221.9 L16.8 233.5" stroke="#000" stroke-width="1.3" fill="none"/>
<text y="149.0" font-size="25"><tspan x="0">5</tspan><tspan x="34.3">10</tspan></text>
<text transform="translate(59.8 140.3) scale(0.93 1.05)" font-size="17.75">16</text>
<path d="M16.8 136.5 L28.6 148.1 M28.6 136.5 L16.8 148.1" stroke="#000" stroke-width="1.3" fill="none"/>
</g>
</svg>
</body></html>
